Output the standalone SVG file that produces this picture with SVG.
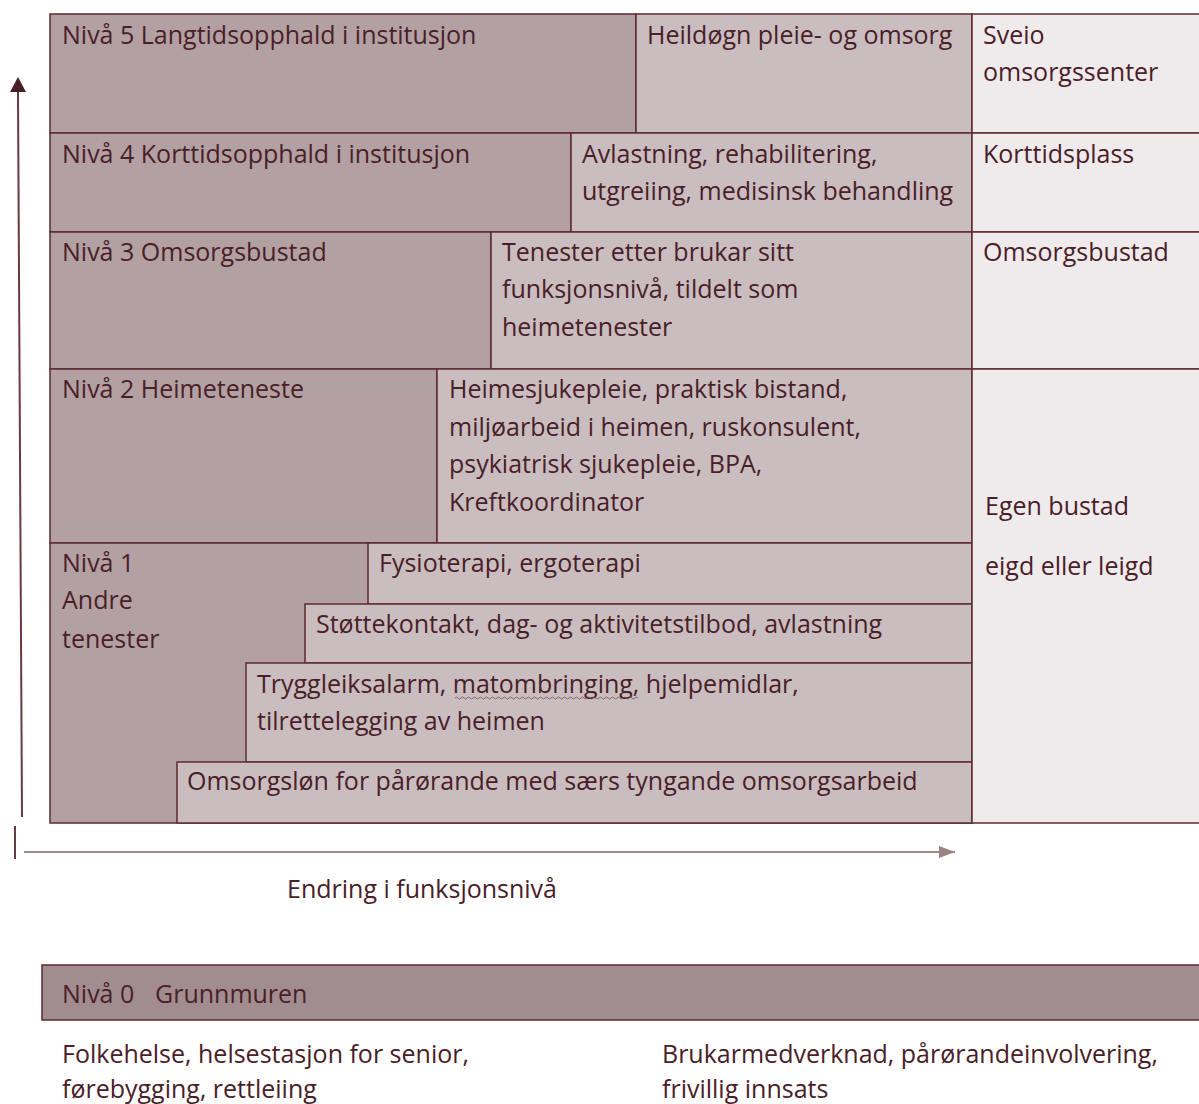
<svg xmlns="http://www.w3.org/2000/svg" width="1199" height="1104" viewBox="0 0 1199 1104">
<style>
text{font-family:"Open Sans","Noto Sans","Liberation Sans",sans-serif;font-size:25px;fill:#4a2028}
.dk{fill:#b3a0a2;stroke:#5c2a32;stroke-width:1.5}
.lt{fill:#c9bdbf;stroke:#5c2a32;stroke-width:1.5}
.rc{fill:#efeaeb;stroke:#5c2a32;stroke-width:1.5}
.n0{fill:#a18d8f;stroke:#5c2a32;stroke-width:1.5}
</style>
<defs>
<marker id="ahR" markerWidth="16" markerHeight="12" refX="16" refY="6" orient="auto" markerUnits="userSpaceOnUse" viewBox="0 0 16 12"><path d="M0,0 L16,6 L0,12 z" fill="#9a8486"/></marker>
</defs>
<g id="level5">
<rect class="dk" x="50" y="14" width="586" height="119"/>
<rect class="lt" x="636" y="14" width="336" height="119"/>
<text x="62" y="44">Nivå 5 Langtidsopphald i institusjon</text>
<text x="647" y="44">Heildøgn pleie- og omsorg</text>
</g>
<g id="level5-place">
<rect class="rc" x="972" y="14" width="240" height="119"/>
<text x="983" y="44">Sveio</text>
<text x="983" y="81">omsorgssenter</text>
</g>
<g id="level4">
<rect class="dk" x="50" y="133" width="521" height="99"/>
<rect class="lt" x="571" y="133" width="401" height="99"/>
<text x="62" y="163">Nivå 4 Korttidsopphald i institusjon</text>
<text x="582" y="163">Avlastning, rehabilitering,</text>
<text x="582" y="200">utgreiing, medisinsk behandling</text>
</g>
<g id="level4-place">
<rect class="rc" x="972" y="133" width="240" height="99"/>
<text x="983" y="163">Korttidsplass</text>
</g>
<g id="level3">
<rect class="dk" x="50" y="232" width="441" height="137"/>
<rect class="lt" x="491" y="232" width="481" height="137"/>
<text x="62" y="261">Nivå 3 Omsorgsbustad</text>
<text x="502" y="261">Tenester etter brukar sitt</text>
<text x="502" y="298">funksjonsnivå, tildelt som</text>
<text x="502" y="336">heimetenester</text>
</g>
<g id="level3-place">
<rect class="rc" x="972" y="232" width="240" height="137"/>
<text x="983" y="261">Omsorgsbustad</text>
</g>
<g id="level2">
<rect class="dk" x="50" y="369" width="387" height="174"/>
<rect class="lt" x="437" y="369" width="535" height="174"/>
<text x="62" y="398">Nivå 2 Heimeteneste</text>
<text x="449" y="398">Heimesjukepleie, praktisk bistand,</text>
<text x="449" y="436">miljøarbeid i heimen, ruskonsulent,</text>
<text x="449" y="473">psykiatrisk sjukepleie, BPA,</text>
<text x="449" y="511">Kreftkoordinator</text>
</g>
<g id="level1">
<rect class="dk" x="50" y="543" width="922" height="280"/>
<text x="62" y="572">Nivå 1</text>
<text x="62" y="609">Andre</text>
<text x="62" y="648">tenester</text>
</g>
<g id="level1-fysio">
<rect class="lt" x="368" y="543" width="604" height="61"/>
<text x="379" y="572">Fysioterapi, ergoterapi</text>
</g>
<g id="level1-stotte">
<rect class="lt" x="305" y="604" width="667" height="59"/>
<text x="316" y="633">Støttekontakt, dag- og aktivitetstilbod, avlastning</text>
</g>
<g id="level1-trygg">
<rect class="lt" x="246" y="663" width="726" height="99"/>
<text x="257" y="693">Tryggleiksalarm, matombringing, hjelpemidlar,</text>
<text x="257" y="730">tilrettelegging av heimen</text>
<path d="M455,698 q1.5,-2 3,0 t3,0 t3,0 t3,0 t3,0 t3,0 t3,0 t3,0 t3,0 t3,0 t3,0 t3,0 t3,0 t3,0 t3,0 t3,0 t3,0 t3,0 t3,0 t3,0 t3,0 t3,0 t3,0 t3,0 t3,0 t3,0 t3,0 t3,0 t3,0 t3,0 t3,0 t3,0 t3,0 t3,0 t3,0 t3,0 t3,0 t3,0 t3,0 t3,0 t3,0 t3,0 t3,0 t3,0 t3,0 t3,0 t3,0 t3,0 t3,0 t3,0 t3,0 t3,0 t3,0 t3,0 t3,0 t3,0 t3,0 t3,0 t3,0 t3,0 t3,0" fill="none" stroke="#7a5258" stroke-width="0.8"/>
</g>
<g id="level1-omsorgslon">
<rect class="lt" x="177" y="762" width="795" height="61"/>
<text x="187" y="790">Omsorgsløn for pårørande med særs tyngande omsorgsarbeid</text>
</g>
<g id="egen-bustad">
<rect class="rc" x="972" y="369" width="240" height="454"/>
<text x="985" y="515">Egen bustad</text>
<text x="985" y="575">eigd eller leigd</text>
</g>
<g id="axes">
<line x1="22" y1="817" x2="18" y2="92" stroke="#6a3a40" stroke-width="2"/>
<path d="M18,77 L26,92 L10,92 z" fill="#4a1e26"/>
<line x1="15" y1="826" x2="15" y2="859" stroke="#6a3a40" stroke-width="2"/>
<line x1="24" y1="852" x2="955" y2="852" stroke="#a08a8c" stroke-width="2" marker-end="url(#ahR)"/>
<text x="287" y="898">Endring i funksjonsnivå</text>
</g>
<g id="level0">
<rect class="n0" x="42" y="965" width="1170" height="55"/>
<text x="62" y="1003">Nivå 0<tspan x="155">Grunnmuren</tspan></text>
<text x="62" y="1063">Folkehelse, helsestasjon for senior,</text>
<text x="62" y="1098">førebygging, rettleiing</text>
<text x="662" y="1063">Brukarmedverknad, pårørandeinvolvering,</text>
<text x="662" y="1098">frivillig innsats</text>
</g>
</svg>
